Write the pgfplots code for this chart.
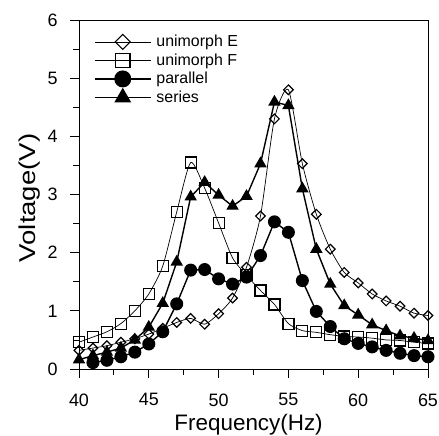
\documentclass[border=0pt]{standalone}
\usepackage{fontspec}
\setmainfont{Liberation Sans}
\usepackage{graphicx}
\usepackage{pgfplots}
\pgfplotsset{compat=1.18}

\begin{document}
\begin{tikzpicture}
\useasboundingbox (-79bp,-67bp) rectangle (360bp,369bp);
\begin{axis}[
  scale only axis,
  width=349bp, height=349bp,
  xmin=40, xmax=65, ymin=0, ymax=6,
  xtick={40,45,...,65}, ytick={0,1,...,6},
  minor x tick num=1, minor y tick num=1,
  tick align=outside,
  xtick pos=bottom, ytick pos=left,
  major tick length=9bp, minor tick length=5.5bp,
  tick style={black, line width=0.8bp},
  axis line style={line width=0.8bp},
  /pgf/number format/assume math mode=true,
  tick label style={font=\fontsize{18}{20}\selectfont},
  xticklabel style={yshift=-12bp},
  yticklabel style={xshift=-9bp},
  xlabel={Frequency(Hz)},
  ylabel={\scalebox{1.2}[1]{Voltage(V)}},
  xlabel style={font=\fontsize{22.5}{24}\selectfont, at={(axis description cs:0.486,-0.16)}, anchor=center},
  ylabel style={font=\fontsize{23}{26}\selectfont, at={(axis description cs:-0.142,0.49)}, anchor=center},
  legend style={draw=none, fill=none, at={(axis description cs:0.034,0.968)}, anchor=north west,
    font=\fontsize{16}{18}\selectfont, row sep=1.5bp},
  legend cell align=left,
]
% unimorph E
\addplot[black, line width=0.7bp, smooth, tension=0.4, mark=square, mark size=3.4bp,
  mark options={rotate=45, fill=white, line width=1.2bp},
  legend image code/.code={\draw[sharp plot, mark repeat=2, mark phase=2, mark size=5.3bp]
    plot coordinates {(0bp,0bp)(28bp,0bp)(56bp,0bp)};\path (59bp,0bp);}]
  coordinates {(40,0.32)(41,0.36)(42,0.40)(43,0.46)(44,0.52)(45,0.60)(46,0.70)(47,0.80)(48,0.87)
  (49,0.77)(50,0.95)(51,1.22)(52,1.75)(53,2.63)(54,4.30)(55,4.80)(56,3.53)(57,2.66)(58,2.06)
  (59,1.66)(60,1.48)(61,1.29)(62,1.17)(63,1.08)(64,0.96)(65,0.92)};
\addlegendentry{unimorph E}
% unimorph F
\addplot[black, line width=0.7bp, smooth, tension=0.4, mark=square, mark size=5.5bp,
  mark options={fill=white, line width=1.2bp},
  legend image code/.code={\draw[sharp plot, mark repeat=2, mark phase=2, mark size=7.2bp]
    plot coordinates {(0bp,0bp)(28bp,0bp)(56bp,0bp)};\path (59bp,0bp);}]
  coordinates {(40,0.46)(41,0.55)(42,0.64)(43,0.78)(44,1.00)(45,1.29)(46,1.77)(47,2.70)(48,3.55)
  (49,3.11)(50,2.51)(51,1.91)(52,1.61)(53,1.35)(54,1.11)(55,0.78)(56,0.66)(57,0.63)(58,0.59)
  (59,0.56)(60,0.55)(61,0.53)(62,0.50)(63,0.49)(64,0.46)(65,0.44)};
\addlegendentry{unimorph F}
% parallel
\addplot[black, line width=1.4bp, mark=*, mark size=5.8bp, mark options={fill=black},
  legend image code/.code={\draw[mark repeat=2, mark phase=2, mark size=7.8bp]
    plot coordinates {(0bp,0bp)(28bp,0bp)(56bp,0bp)};\path (59bp,0bp);}]
  coordinates {(41,0.11)(42,0.15)(43,0.21)(44,0.29)(45,0.43)(46,0.64)(47,1.12)(48,1.70)(49,1.71)
  (50,1.55)(51,1.46)(52,1.58)(53,1.95)(54,2.53)(55,2.35)(56,1.52)(57,0.99)(58,0.73)(59,0.52)
  (60,0.44)(61,0.38)(62,0.32)(63,0.27)(64,0.23)(65,0.21)};
\addlegendentry{parallel}
% series
\addplot[black, line width=1.4bp, mark=triangle*, mark size=5.8bp, mark options={fill=black},
  legend image code/.code={\draw[mark repeat=2, mark phase=2, mark size=8.3bp]
    plot coordinates {(0bp,0bp)(28bp,0bp)(56bp,0bp)};\path (59bp,0bp);}]
  coordinates {(40,0.16)(41,0.23)(42,0.29)(43,0.36)(44,0.50)(45,0.72)(46,1.13)(47,1.84)(48,2.96)
  (49,3.21)(50,2.99)(51,2.80)(52,2.97)(53,3.53)(54,4.59)(55,4.53)(56,3.10)(57,2.06)(58,1.46)
  (59,1.09)(60,0.93)(61,0.76)(62,0.66)(63,0.57)(64,0.53)(65,0.49)};
\addlegendentry{series}
\end{axis}
\end{tikzpicture}
\end{document}
